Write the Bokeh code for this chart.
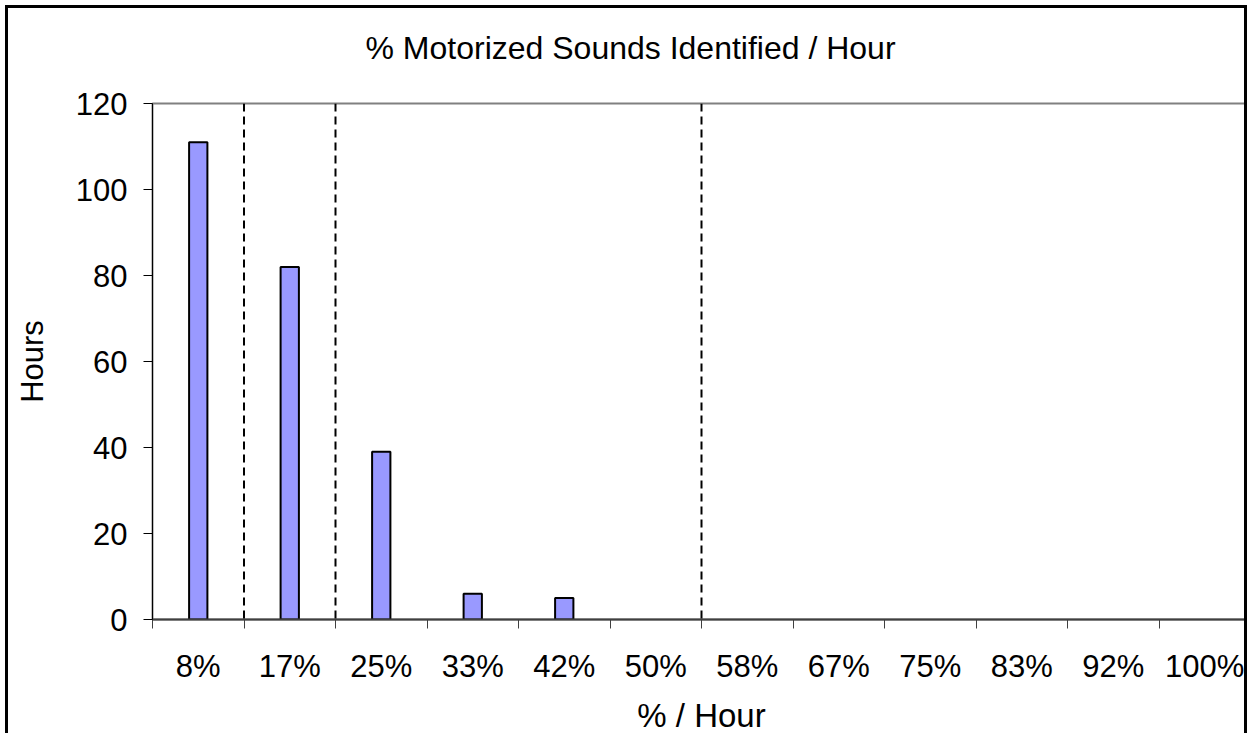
from bokeh.plotting import figure
from bokeh.models import Range1d, FixedTicker, Span, Title, ColumnDataSource
from bokeh.embed import file_html
from bokeh.resources import INLINE

# ---- data ----
categories = ["8%", "17%", "25%", "33%", "42%", "50%", "58%", "67%", "75%", "83%", "92%", "100%"]
hours = [111, 82, 39, 6, 5, 0, 0, 0, 0, 0, 0, 0]
y_ticks = [0, 20, 40, 60, 80, 100, 120]
dashed_after = ["8%", "17%", "50%"]

title_text = "% Motorized Sounds Identified / Hour"
x_title = "% / Hour"
y_title = "Hours"

FONT = "Liberation Sans"

centers = [i + 0.5 for i in range(len(categories))]
bars = [(c, h) for c, h in zip(centers, hours) if h > 0]
src = ColumnDataSource(dict(x=[b[0] for b in bars], top=[b[1] for b in bars]))

p = figure(width=1242, height=728, output_backend="svg", toolbar_location=None,
           x_range=Range1d(0, len(categories)), y_range=Range1d(0, 120),
           min_border_left=144, min_border_right=0, min_border_top=95, min_border_bottom=117)
p.styles = {"margin-left": "5px", "margin-top": "5px",
            "border-left": "3px solid black", "border-top": "3px solid black",
            "border-right": "3px solid black"}

p.xgrid.visible = False
p.ygrid.visible = False
p.outline_line_color = "#808080"
p.outline_line_width = 2

p.vbar(x="x", top="top", width=0.2, bottom=0, source=src,
       fill_color="#9999FF", line_color="black", line_width=2)

for c in dashed_after:
    loc = categories.index(c) + 1
    p.add_layout(Span(location=loc, dimension="height", line_color="black",
                      line_width=2, line_dash="8 5"))

# x axis
xa = p.xaxis[0]
xa.ticker = FixedTicker(ticks=centers, minor_ticks=list(range(len(categories) + 1)))
xa.major_label_overrides = {c: lab for c, lab in zip(centers, categories)}
xa.major_tick_line_color = None
xa.minor_tick_line_color = "#404040"
xa.minor_tick_line_width = 1
xa.minor_tick_out = 9
xa.minor_tick_in = 0
xa.axis_line_color = "#404040"
xa.axis_line_width = 2
xa.major_label_text_font = FONT
xa.major_label_text_font_size = "31px"
xa.major_label_text_color = "black"
xa.major_label_standoff = 20
xa.axis_label = x_title
xa.axis_label_text_font = FONT
xa.axis_label_text_font_size = "33px"
xa.axis_label_text_font_style = "normal"
xa.axis_label_text_color = "black"
xa.axis_label_standoff = 10

# y axis
ya = p.yaxis[0]
ya.ticker = FixedTicker(ticks=y_ticks, minor_ticks=[])
ya.major_tick_out = 9
ya.major_tick_in = 0
ya.major_tick_line_color = "black"
ya.minor_tick_line_color = None
ya.axis_line_color = "black"
ya.axis_line_width = 1
ya.major_label_text_font = FONT
ya.major_label_text_font_size = "31px"
ya.major_label_text_color = "black"
ya.major_label_standoff = 16
ya.axis_label = y_title
ya.axis_label_text_font = FONT
ya.axis_label_text_font_size = "31px"
ya.axis_label_text_font_style = "normal"
ya.axis_label_text_color = "black"
ya.axis_label_standoff = 23

p.add_layout(Title(text=" ", text_font_size="19px"), "above")
p.add_layout(Title(text=title_text, text_font=FONT, text_font_size="32px",
                   text_font_style="normal", text_color="black", align="left",
                   offset=213), "above")

open("out.html", "w").write(file_html(p, INLINE))
